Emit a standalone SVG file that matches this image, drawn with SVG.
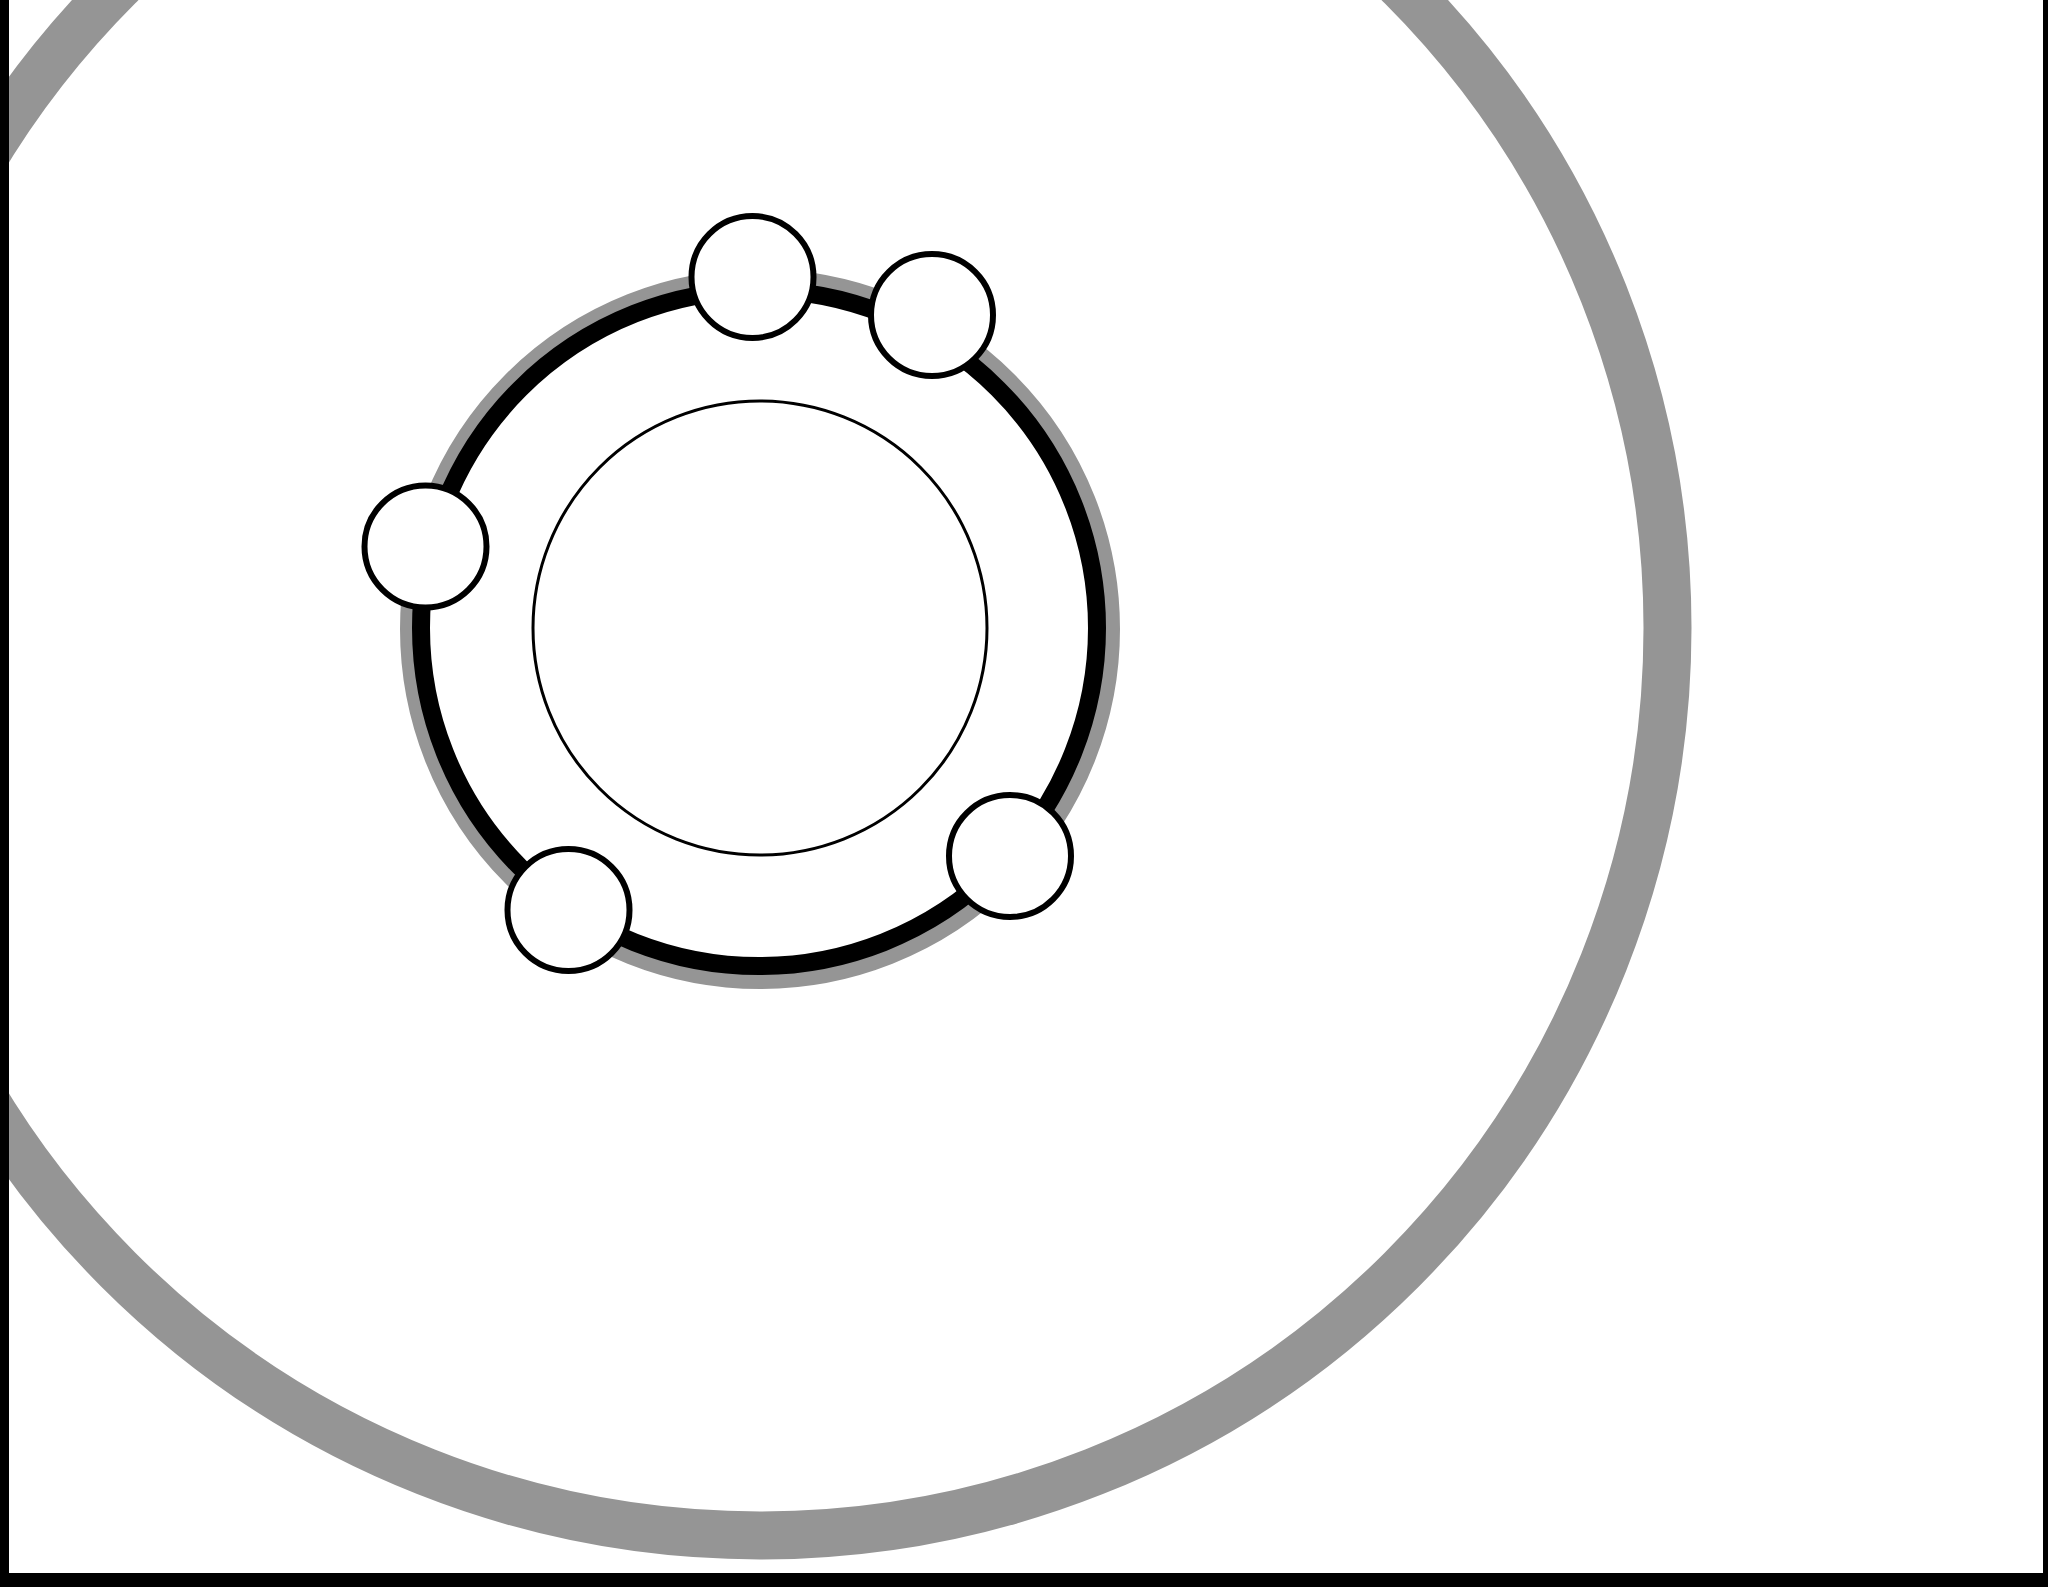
<svg xmlns="http://www.w3.org/2000/svg" width="2048" height="1587" viewBox="0 0 2048 1587">
  <style>
    .node { fill: #ffffff; stroke: #000000; stroke-width: 6; }
    .ring-gray { fill: none; stroke: #959595; }
    .ring-black { fill: none; stroke: #000000; stroke-width: 18; }
    .inner { fill: #ffffff; stroke: #000000; stroke-width: 3; }
    .frame { fill: #000000; }
  </style>
  <rect x="0" y="0" width="2048" height="1587" fill="#ffffff"/>
  <g id="outer-ring">
    <circle class="ring-gray" cx="760" cy="628" r="907.5" stroke-width="48"/>
  </g>
  <g id="inner-circle">
    <circle class="inner" cx="760" cy="628" r="227"/>
  </g>
  <g id="connectors">
    <circle class="ring-gray" cx="760" cy="629" r="351" stroke-width="18"/>
    <circle class="ring-black" cx="759" cy="628" r="338"/>
  </g>
  <g id="node-1"><circle class="node" cx="752.5" cy="277" r="61"/></g>
  <g id="node-2"><circle class="node" cx="932" cy="315" r="61"/></g>
  <g id="node-3"><circle class="node" cx="425.5" cy="546.5" r="61"/></g>
  <g id="node-4"><circle class="node" cx="568.5" cy="910" r="61"/></g>
  <g id="node-5"><circle class="node" cx="1010" cy="856" r="61"/></g>
  <g id="frame">
    <rect class="frame" x="0" y="0" width="9" height="1587"/>
    <rect class="frame" x="2043" y="0" width="5" height="1587"/>
    <rect class="frame" x="0" y="1573" width="2048" height="14"/>
  </g>
</svg>
